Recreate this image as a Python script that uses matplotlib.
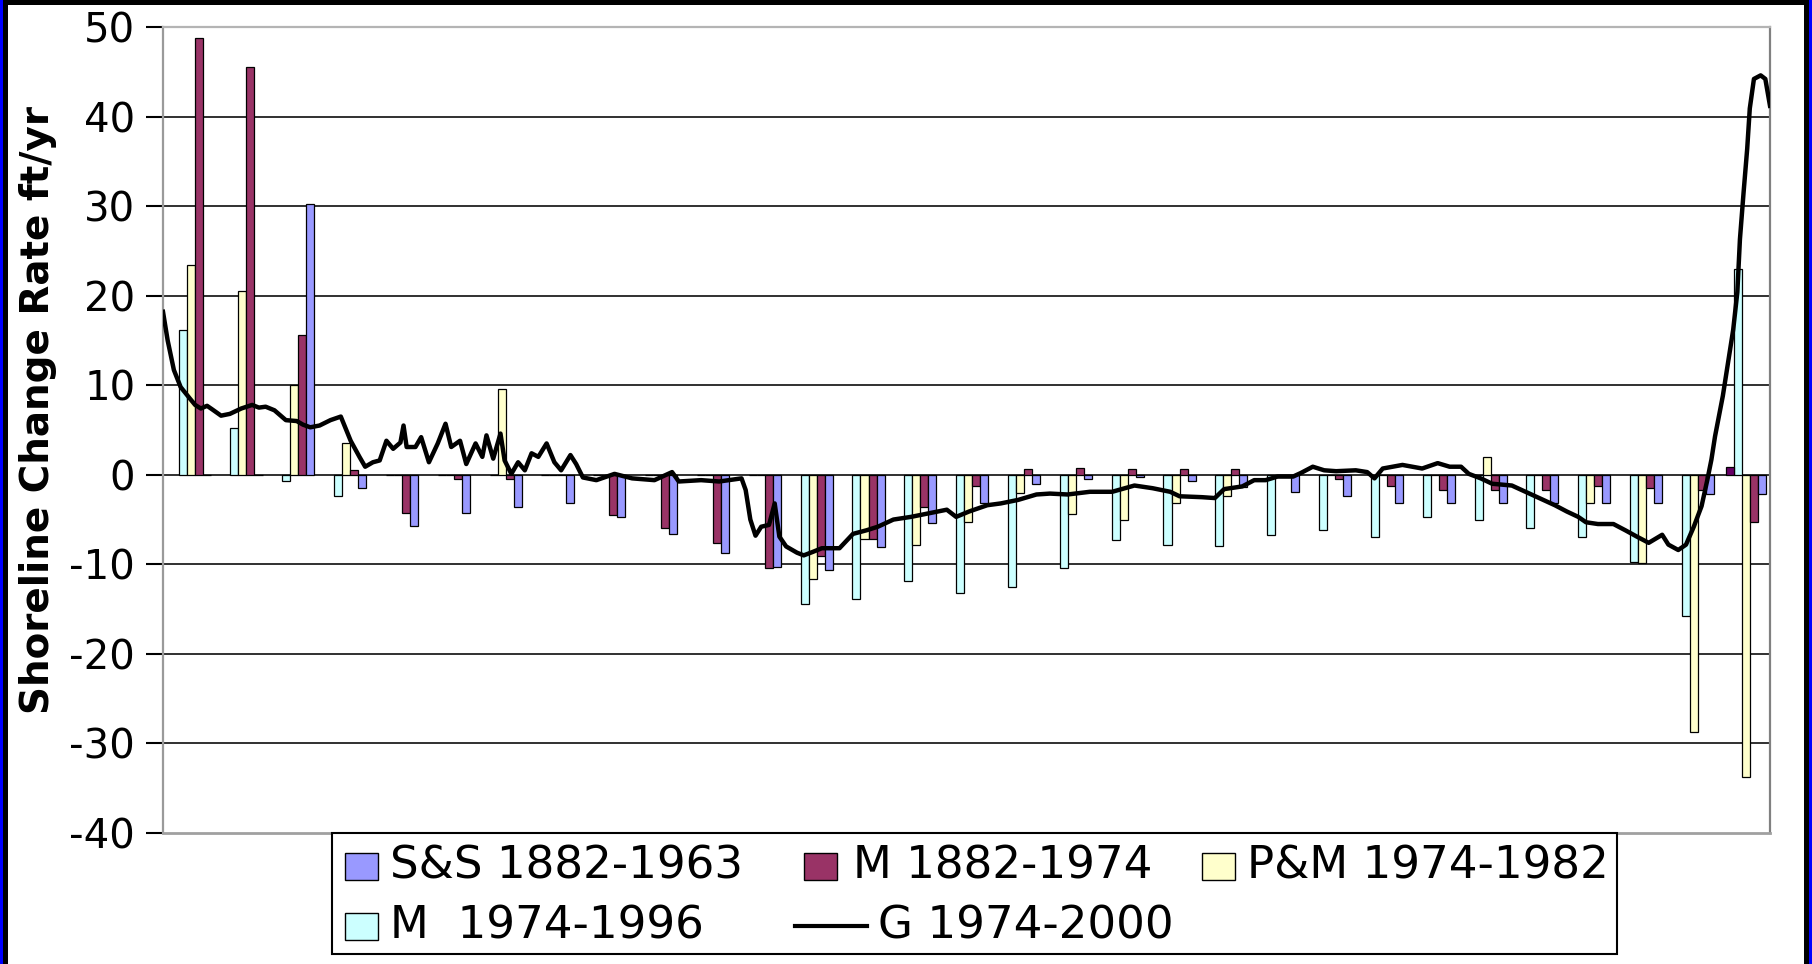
import matplotlib
matplotlib.use("Agg")
import matplotlib.pyplot as plt
from matplotlib.patches import Rectangle
from matplotlib.lines import Line2D

# series names as they appear in the key
series_names = ["S&S 1882-1963", "M 1882-1974", "P&M 1974-1982", "M  1974-1996", "G 1974-2000"]

# transect groups, 31 along the shore (values in ft/yr)
ss_1882_1963 = [0, 0, 30.2, -1.5, -5.7, -4.3, -3.6, -3.1, -4.7, -6.6, -8.7, -10.3, -10.6, -8.1, -5.4, -3.1,
                -1.0, -0.5, -0.2, -0.7, -1.4, -1.9, -2.4, -3.1, -3.1, -3.1, -3.1, -3.1, -3.1, -2.2, -2.1]
m_1882_1974 = [48.8, 45.5, 15.6, 0.5, -4.3, -0.5, -0.5, 0, -4.5, -5.9, -7.6, -10.4, -9.1, -7.2, -3.6, -1.2,
               0.6, 0.75, 0.6, 0.6, 0.6, 0, -0.5, -1.2, -1.7, -1.7, -1.7, -1.2, -1.5, -1.7, -5.3]
pm_1974_1982 = [23.4, 20.5, 10.0, 3.5, 0, 0, 9.6, 0, 0, 0, 0, 0, -11.6, -7.2, -7.8, -5.3,
                -2.0, -4.4, -5.0, -3.2, -2.4, 0, 0, 0, 0, 2.0, 0, -3.2, -9.9, -28.7, -33.8]
m_1974_1996 = [16.2, 5.2, -0.7, -2.4, 0, 0, 0, 0, 0, 0, 0, 0, -14.4, -13.9, -11.9, -13.2,
               -12.5, -10.4, -7.3, -7.8, -7.9, -6.7, -6.2, -6.9, -4.7, -5.0, -5.9, -6.9, -9.7, -15.8, 23.0]
# odd short bar sitting just left of the last group
last_group_extra = 0.9

# G 1974-2000 trace: position along the shore (in group units) and rate
g_pos = [0.00, 0.09, 0.21, 0.34, 0.52, 0.62, 0.73, 0.85, 0.95, 1.12, 1.29, 1.51, 1.72, 1.85, 1.98, 2.15,
         2.37, 2.58, 2.70, 2.84, 3.02, 3.23, 3.43, 3.62, 3.79, 3.90, 4.05, 4.18, 4.31, 4.44, 4.58, 4.64,
         4.70, 4.87, 4.98, 5.13, 5.30, 5.45, 5.56, 5.73, 5.85, 6.03, 6.16, 6.24, 6.37, 6.51, 6.59, 6.72,
         6.85, 6.98, 7.11, 7.24, 7.40, 7.55, 7.68, 7.86, 7.97, 8.10, 8.36, 8.71, 9.05, 9.48, 9.82, 9.95,
         10.38, 10.73, 11.16, 11.24, 11.33, 11.43, 11.54, 11.69, 11.80, 11.89, 12.02, 12.23, 12.36, 12.54,
         12.71, 13.05, 13.31, 13.57, 13.79, 14.09, 14.43, 14.78, 15.12, 15.30, 15.55, 15.90, 16.16, 16.50,
         16.85, 17.11, 17.45, 17.88, 18.31, 18.74, 19.09, 19.43, 19.61, 20.04, 20.29, 20.47, 20.82, 21.05,
         21.27, 21.50, 21.80, 21.95, 22.18, 22.40, 22.63, 23.01, 23.23, 23.37, 23.53, 23.91, 24.29, 24.59,
         24.82, 25.04, 25.19, 25.42, 25.64, 26.02, 26.32, 26.62, 26.85, 27.08, 27.30, 27.45, 27.68, 27.98,
         28.21, 28.43, 28.66, 28.92, 29.04, 29.23, 29.38, 29.53, 29.68, 29.79, 29.87, 29.94, 30.09, 30.19,
         30.29, 30.37, 30.42, 30.49, 30.56, 30.61, 30.69, 30.82, 30.91, 31.00]
g_rate = [18.2, 15.0, 11.7, 9.8, 8.5, 7.8, 7.4, 7.7, 7.3, 6.6, 6.8, 7.4, 7.8, 7.5, 7.6, 7.2,
          6.1, 6.0, 5.6, 5.3, 5.5, 6.1, 6.5, 3.8, 2.0, 0.9, 1.4, 1.6, 3.8, 2.9, 3.6, 5.5,
          3.1, 3.1, 4.2, 1.4, 3.5, 5.7, 3.1, 3.8, 1.2, 3.5, 2.0, 4.4, 1.8, 4.6, 1.6, 0.1,
          1.4, 0.5, 2.4, 2.0, 3.5, 1.4, 0.5, 2.2, 1.2, -0.3, -0.6, 0.1, -0.4, -0.6, 0.3, -0.75,
          -0.6, -0.75, -0.4, -1.7, -5.0, -6.8, -5.8, -5.6, -3.2, -6.9, -8.0, -8.7, -9.0, -8.6,
          -8.2, -8.2, -6.6, -6.2, -5.8, -5.0, -4.7, -4.3, -3.9, -4.7, -4.1, -3.4, -3.2, -2.8,
          -2.2, -2.1, -2.2, -1.9, -1.9, -1.2, -1.5, -1.9, -2.4, -2.5, -2.6, -1.6, -1.3, -0.6,
          -0.6, -0.2, -0.2, 0.2, 0.9, 0.5, 0.4, 0.5, 0.3, -0.4, 0.7, 1.1, 0.7, 1.3,
          0.9, 0.9, 0.1, -0.4, -1.0, -1.2, -2.0, -2.8, -3.4, -4.1, -4.7, -5.3, -5.5, -5.5,
          -6.2, -6.9, -7.6, -6.7, -7.8, -8.4, -7.8, -5.8, -3.5, -0.6, 1.7, 4.3, 8.8, 12.5,
          16.2, 20.4, 26.3, 31.5, 36.4, 40.9, 44.2, 44.6, 44.2, 41.2]

y_ticks = [-40, -30, -20, -10, 0, 10, 20, 30, 40, 50]

W, H = 1812, 964
fig = plt.figure(figsize=(W / 100, H / 100), dpi=100)
fig.patch.set_facecolor("white")


def fx(px):
    return px / W


def fy(py):
    return 1 - py / H


# slide frame: black top edge, black/blue side edges
for (x0, y0, w, h, c) in [(0, 0, W, 5, "black"), (0, 0, 2.5, H, "#0000ff"), (2.5, 0, 5, H, "black"),
                          (1804, 0, 5, H, "black"), (1809, 0, 3, H, "#0000ff")]:
    fig.add_artist(Rectangle((fx(x0), fy(y0 + h)), w / W, h / H, transform=fig.transFigure,
                             facecolor=c, edgecolor="none"))

ax = fig.add_axes([fx(163), fy(833), (1770 - 163) / W, (833 - 27) / H])
ax.set_xlim(0, 31)
ax.set_ylim(-40, 50)

# horizontal gridlines (top and bottom are the plot border)
for t in y_ticks[1:-1]:
    ax.axhline(t, color="#303030", lw=1.4, zorder=0.5)

# clustered bars, drawn right-to-left series order like the source chart
n = len(ss_1882_1963)
bw = 0.155
off = 0.30
cols = [m_1974_1996, pm_1974_1982, m_1882_1974, ss_1882_1963]
colors = ["#ccffff", "#ffffcc", "#993366", "#9999ff"]
for slot, (vals, c) in enumerate(zip(cols, colors)):
    xs = [i + off + slot * bw for i in range(n)]
    ax.bar(xs, vals, width=bw, align="edge", color=c, edgecolor="black", linewidth=0.9, zorder=2)
ax.bar([n - 1 + off - bw], [last_group_extra], width=bw, align="edge", color="#660066",
       edgecolor="black", linewidth=0.9, zorder=2)

ax.plot(g_pos, g_rate, color="black", lw=3.2, zorder=3)

for side, c, lw in [("left", "#9a9a9a", 1.6), ("top", "#b4b4b4", 1.6), ("right", "#808080", 1.6),
                    ("bottom", "#a0a0a0", 2.0)]:
    ax.spines[side].set_color(c)
    ax.spines[side].set_linewidth(lw)

ax.set_xticks([])
ax.set_yticks(y_ticks)
ax.set_yticklabels([str(t) for t in y_ticks])
ax.tick_params(axis="y", direction="out", length=12, width=1.5, color="black", labelsize=29, pad=8)

fig.text(fx(38), fy(410), "Shoreline Change Rate ft/yr", rotation=90, ha="center", va="center",
         fontsize=28, fontweight="bold")

# key box below the plot
fig.add_artist(Rectangle((fx(332), fy(954)), (1617 - 332) / W, (954 - 833) / H, transform=fig.transFigure,
                         facecolor="white", edgecolor="black", linewidth=1.5))
row1, row2 = 866, 926
key_items = [
    (series_names[0], "#9999ff", 345, row1, 390),
    (series_names[1], "#993366", 804, row1, 853),
    (series_names[2], "#ffffcc", 1202, row1, 1247),
    (series_names[3], "#ccffff", 345, row2, 390),
]
for label, c, hx, ry, tx in key_items:
    fig.add_artist(Rectangle((fx(hx), fy(ry + 13.5)), 33 / W, 27 / H, transform=fig.transFigure,
                             facecolor=c, edgecolor="black", linewidth=1.0))
    fig.text(fx(tx), fy(ry), label, ha="left", va="center", fontsize=32.5)
fig.add_artist(Line2D([fx(795), fx(867)], [fy(row2), fy(row2)], transform=fig.transFigure,
                      color="black", lw=3))
fig.text(fx(878), fy(row2), series_names[4], ha="left", va="center", fontsize=32.5)

fig.savefig("out.png", dpi=100, facecolor="white")
